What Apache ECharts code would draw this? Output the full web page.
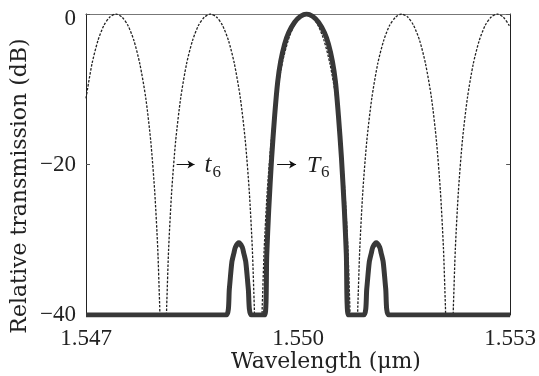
<!DOCTYPE html>
<html>
<head>
<meta charset="utf-8">
<script src="https://cdn.jsdelivr.net/npm/echarts@6/dist/echarts.min.js"></script>
<style>
  html, body { margin: 0; padding: 0; background: #fff; }
  #chart { width: 539px; height: 376px; }
</style>
</head>
<body>
<div id="chart"></div>
<script>
// wavelength (um) / relative transmission (dB)
const t6Wl = [
  1.547000, 1.547085, 1.547170, 1.547254, 1.547338, 1.547423, 1.547508, 1.547592, 1.547677, 1.547761,
  1.547846, 1.547916, 1.547972, 1.548015, 1.548043, 1.548050,
  1.548134, 1.548141, 1.548169, 1.548212, 1.548268, 1.548339, 1.548423, 1.548508, 1.548592, 1.548677,
  1.548761, 1.548846, 1.548930, 1.549015, 1.549099, 1.549184, 1.549254, 1.549310, 1.549353, 1.549381, 1.549388,
  1.549486, 1.549493, 1.549521, 1.549564, 1.549620, 1.549691, 1.549775, 1.549860, 1.549944, 1.550029,
  1.550113, 1.550198, 1.550282, 1.550367, 1.550451, 1.550536, 1.550606, 1.550662, 1.550705, 1.550733, 1.550740,
  1.550838, 1.550845, 1.550873, 1.550916, 1.550972, 1.551043, 1.551127, 1.551212, 1.551296, 1.551381,
  1.551465, 1.551550, 1.551634, 1.551719, 1.551803, 1.551888, 1.551958, 1.552014, 1.552057, 1.552085, 1.552092,
  1.552190, 1.552197, 1.552225, 1.552268, 1.552324, 1.552395, 1.552479, 1.552564, 1.552648, 1.552733,
  1.552817, 1.552902, 1.552986, 1.553000
];
const t6Db = [
  -11.2, -6.6, -3.5, -1.5, -0.4, 0, -0.4, -1.5, -3.5, -6.6,
  -11.2, -16.9, -23.6, -31.2, -38.9, -40,
  -40, -38.9, -31.2, -23.6, -16.9, -11.2, -6.6, -3.5, -1.5, -0.4,
  0, -0.4, -1.5, -3.5, -6.6, -11.2, -16.9, -23.6, -31.2, -38.9, -40,
  -40, -38.9, -31.2, -23.6, -16.9, -11.2, -6.6, -3.5, -1.5, -0.4,
  0, -0.4, -1.5, -3.5, -6.6, -11.2, -16.9, -23.6, -31.2, -38.9, -40,
  -40, -38.9, -31.2, -23.6, -16.9, -11.2, -6.6, -3.5, -1.5, -0.4,
  0, -0.4, -1.5, -3.5, -6.6, -11.2, -16.9, -23.6, -31.2, -38.9, -40,
  -40, -38.9, -31.2, -23.6, -16.9, -11.2, -6.6, -3.5, -1.5, -0.4,
  0, -0.4, -1.5, -1.8
];

const T6Wl = [
  1.547000,
  1.548986, 1.549028, 1.549063, 1.549092, 1.549113, 1.549162, 1.549211, 1.549232, 1.549261, 1.549296, 1.549338,
  1.549528, 1.549557, 1.549585, 1.549627, 1.549669, 1.549712, 1.549754, 1.549810, 1.549866, 1.549951, 1.550035,
  1.550120,
  1.550205, 1.550289, 1.550374, 1.550430, 1.550486, 1.550529, 1.550571, 1.550613, 1.550655, 1.550683, 1.550712,
  1.550930, 1.550972, 1.551007, 1.551036, 1.551057, 1.551106, 1.551155, 1.551176, 1.551205, 1.551240, 1.551282,
  1.553000
];
const T6Db = [
  -40,
  -40, -36.5, -33, -31.8, -31, -30.4, -31, -31.8, -33, -36.5, -40,
  -40, -32, -26, -19, -13.5, -9, -6.3, -4, -2.5, -1.1, -0.3,
  0,
  -0.3, -1.1, -2.5, -4, -6.3, -9, -13.5, -19, -26, -32, -40,
  -40, -36.5, -33, -31.8, -31, -30.4, -31, -31.8, -33, -36.5, -40,
  -40
];

const xTicks = [1.547, 1.550, 1.553];
const yTicks = [-40, -20, 0];

// annotation arrows: [from, to] wavelength at -20 dB
const arrowT = [1.548282, 1.548535];
const arrowBigT = [1.549704, 1.549972];

const serif = '"Liberation Serif", "Times New Roman", Times, serif';
const nameFont = '"DejaVu Serif", "Liberation Serif", serif';

const zip = (xs, ys) => xs.map((x, i) => [x, ys[i]]);

const chart = echarts.init(document.getElementById('chart'), null, { renderer: 'canvas' });

const option = {
  animation: false,
  backgroundColor: '#fff',
  grid: { left: 86, right: 27, top: 14, bottom: 61 },
  xAxis: [
    {
      type: 'value', min: 1.547, max: 1.553, position: 'bottom',
      axisLine: { show: true, lineStyle: { color: '#888', width: 1, type: [3, 3] } },
      axisTick: { show: false },
      splitLine: { show: false },
      axisLabel: {
        customValues: xTicks,
        formatter: v => v.toFixed(3),
        fontFamily: serif, fontSize: 23, color: '#222', margin: 12
      }
    },
    {
      type: 'value', min: 1.547, max: 1.553, position: 'top',
      axisLine: { show: true, lineStyle: { color: '#777', width: 1 } },
      axisTick: { show: false }, axisLabel: { show: false }, splitLine: { show: false }
    }
  ],
  yAxis: [
    {
      type: 'value', min: -40, max: 0, interval: 20, position: 'left',
      axisLine: { show: true, lineStyle: { color: '#222', width: 1 } },
      axisTick: { inside: true, length: 4, lineStyle: { color: '#555' } },
      splitLine: { show: false },
      axisLabel: {
        customValues: yTicks,
        formatter: v => v === 0 ? '{top|0}' : String(v).replace('-', '\u2212'),
        rich: { top: { fontFamily: serif, fontSize: 23, color: '#222', padding: [10, 0, 0, 0] } },
        fontFamily: serif, fontSize: 23, color: '#222', margin: 10
      }
    },
    {
      type: 'value', min: -40, max: 0, interval: 20, position: 'right',
      axisLine: { show: true, lineStyle: { color: '#222', width: 1 } },
      axisTick: { inside: true, length: 4, lineStyle: { color: '#555' } },
      axisLabel: { show: false }, splitLine: { show: false }
    }
  ],
  series: [
    {
      name: 't6', type: 'line', data: zip(t6Wl, t6Db),
      showSymbol: false, smooth: 0.25, z: 2,
      lineStyle: { color: '#222', width: 1.3, type: [2.5, 1.5] },
      markLine: {
        silent: true, symbol: ['none', 'arrow'], symbolSize: [6, 7],
        label: { show: false },
        lineStyle: { color: '#111', width: 1, type: 'solid' },
        data: [
          [{ coord: [arrowT[0], -20] }, { coord: [arrowT[1], -20] }],
          [{ coord: [arrowBigT[0], -20] }, { coord: [arrowBigT[1], -20] }]
        ]
      }
    },
    {
      name: 'T6', type: 'line', data: zip(T6Wl, T6Db),
      showSymbol: false, smooth: 0.25, z: 3,
      lineStyle: { color: '#383838', width: 5 }
    }
  ]
};

chart.setOption(option);

// axis names and the t6 / T6 labels
const pT = chart.convertToPixel({ gridIndex: 0 }, [arrowT[1], -20]);
const pBigT = chart.convertToPixel({ gridIndex: 0 }, [arrowBigT[1], -20]);
function txt(x, y, text, family, size, italic, align) {
  return {
    type: 'text', x: x, y: y,
    style: {
      text: text, fontFamily: family, fontSize: size,
      fontStyle: italic ? 'italic' : 'normal',
      fill: '#222', align: align || 'left', verticalAlign: 'middle'
    }
  };
}

const yName = txt(20, 186, 'Relative transmission (dB)', nameFont, 22, false, 'center');
yName.rotation = Math.PI / 2;

chart.setOption({
  graphic: [
    txt(326, 362, 'Wavelength (\u03bcm)', nameFont, 22, false, 'center'),
    yName,
    txt(pT[0] + 10, pT[1] + 1, 't', serif, 25, true),
    txt(pT[0] + 18, pT[1] + 8, '6', serif, 17, false),
    txt(pBigT[0] + 11, pBigT[1] + 1, 'T', serif, 24, true),
    txt(pBigT[0] + 25, pBigT[1] + 8, '6', serif, 17, false)
  ]
});
</script>
</body>
</html>
